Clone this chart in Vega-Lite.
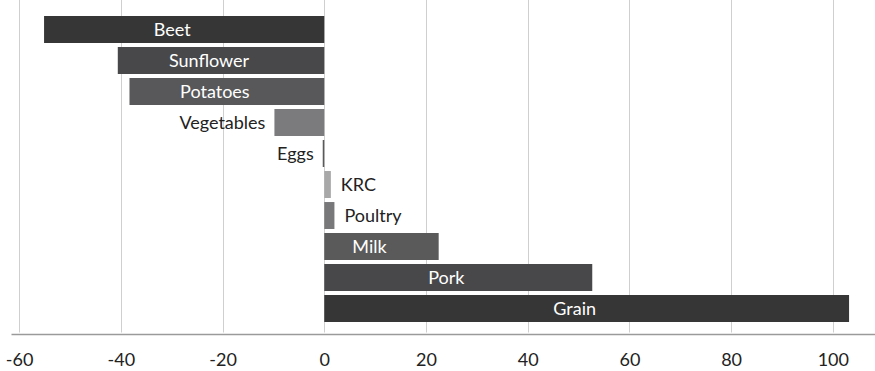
{
  "$schema": "https://vega.github.io/schema/vega-lite/v6.json",
  "autosize": "none",
  "width": 864,
  "height": 334,
  "padding": {"left": 11, "top": 0, "right": 0, "bottom": 37},
  "config": {"view": {"stroke": null}, "font": "Lato"},
  "data": {"values": [
    {"name": "Beet", "value": -55.1},
    {"name": "Sunflower", "value": -40.6},
    {"name": "Potatoes", "value": -38.3},
    {"name": "Vegetables", "value": -9.8},
    {"name": "Eggs", "value": -0.3},
    {"name": "KRC", "value": 1.3},
    {"name": "Poultry", "value": 2.0},
    {"name": "Milk", "value": 22.5},
    {"name": "Pork", "value": 52.7},
    {"name": "Grain", "value": 103.2}
  ]},
  "encoding": {
    "y": {"field": "name", "type": "nominal", "sort": null,
      "scale": {"paddingInner": 0.13, "paddingOuter": 0.45, "range": [2, 336]}, "axis": null}
  },
  "layer": [
    {
      "mark": {"type": "bar"},
      "encoding": {
        "x": {"field": "value", "type": "quantitative",
          "scale": {"domain": [-61.6, 108.3], "nice": false, "zero": false},
          "axis": {"values": [-60, -40, -20, 0, 20, 40, 60, 80, 100], "title": null,
            "labelExpr": "datum.value + ''",
            "grid": true, "gridColor": "#cfcfcf", "gridWidth": 1,
            "domainColor": "#9a9a9a", "domainWidth": 1.5, "ticks": false,
            "labelFontSize": 18, "labelColor": "#222", "labelPadding": 17,
            "labelFont": "Lato", "labelFontWeight": "normal"}},
        "x2": {"datum": 0},
        "color": {"field": "name", "type": "nominal", "legend": null,
          "scale": {
            "domain": ["Beet", "Sunflower", "Potatoes", "Vegetables", "Eggs", "KRC", "Poultry", "Milk", "Pork", "Grain"],
            "range": ["#363636", "#48484a", "#58585a", "#7b7b7d", "#5a5a5a", "#a8a8a8", "#78787a", "#5a5a5a", "#48484a", "#363636"]}}
      }
    },
    {
      "transform": [
        {"filter": "abs(datum.value) > 15"},
        {"calculate": "datum.value / 2", "as": "mid"}
      ],
      "mark": {"type": "text", "color": "#ffffff", "fontSize": 18, "baseline": "middle", "dx": -12, "dy": 1.5},
      "encoding": {
        "x": {"field": "mid", "type": "quantitative"},
        "text": {"field": "name"}
      }
    },
    {
      "transform": [{"filter": "datum.value < 0 && abs(datum.value) <= 15"}],
      "mark": {"type": "text", "color": "#222", "fontSize": 18, "baseline": "middle", "align": "right", "dx": -9, "dy": 1.5},
      "encoding": {
        "x": {"field": "value", "type": "quantitative"},
        "text": {"field": "name"}
      }
    },
    {
      "transform": [{"filter": "datum.value >= 0 && abs(datum.value) <= 15"}],
      "mark": {"type": "text", "color": "#222", "fontSize": 18, "baseline": "middle", "align": "left", "dx": 10, "dy": 1.5},
      "encoding": {
        "x": {"field": "value", "type": "quantitative"},
        "text": {"field": "name"}
      }
    }
  ]
}
